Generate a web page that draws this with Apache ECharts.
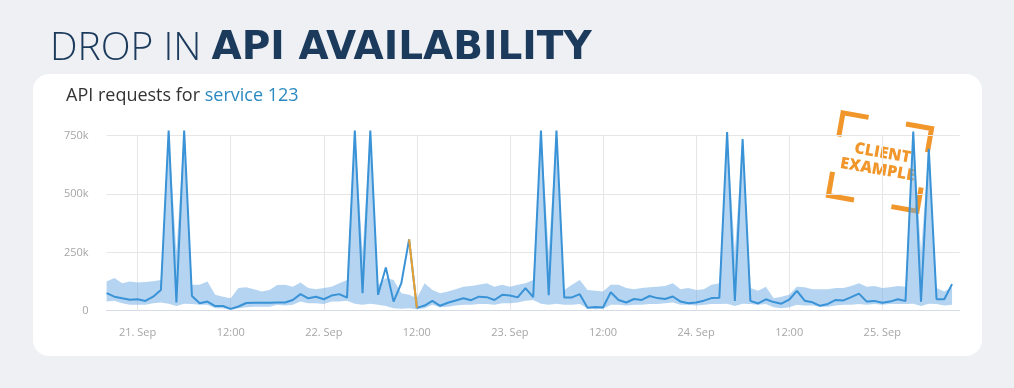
<!DOCTYPE html>
<html><head><meta charset="utf-8">
<script src="https://cdn.jsdelivr.net/npm/echarts@6/dist/echarts.min.js"></script>
<style>
html,body{margin:0;padding:0;background:#eef0f4;width:1014px;height:388px;overflow:hidden}
#card{position:absolute;left:33px;top:74px;width:949px;height:282px;background:#fff;border-radius:16px}
#chart{position:absolute;left:0;top:0;width:1014px;height:388px}
</style></head><body>
<div id="card"></div><div id="chart"></div>
<script>
// hourly samples from 20. Sep 20:00 to 25. Sep 09:00 (values in thousands of requests)
const startDay = 20, startHour = 20, monthName = 'Sep', pointCount = 110;
const requestsK = [75,60,53,47,49,42,60,89,772,35,772,63,32,39,20,20,8,18,33,34,
  34,34,35,35,46,71,53,60,49,65,71,56,772,75,772,68,185,39,118,306,
  12,22,42,21,34,44,53,45,60,58,46,68,65,57,97,58,772,66,772,57,
  57,71,13,16,14,79,46,35,50,46,63,54,50,61,39,32,35,43,54,55,
  766,42,736,42,31,49,37,30,47,85,43,36,21,29,46,44,58,73,39,42,
  34,39,49,42,768,39,694,49,49,114];
const bandHighK = [125,140,118,125,121,123,126,132,772,250,772,111,111,125,68,60,53,97,101,92,
  82,89,110,111,103,121,97,92,97,103,118,132,772,250,772,110,140,132,75,68,
  53,118,89,75,82,92,103,106,111,118,103,111,103,111,118,132,772,250,772,89,
  111,132,89,86,82,111,111,97,92,97,101,103,106,118,92,97,89,92,111,118,
  766,250,736,97,86,103,53,60,68,103,101,92,92,92,97,97,106,118,103,106,
  97,101,106,103,768,250,694,97,82,101];
const bandLowK = [39,43,32,25,25,25,32,35,30,20,30,29,25,25,10,10,3,10,15,17,
  17,17,25,22,25,39,32,32,29,39,39,43,30,25,30,25,20,10,8,10,
  6,10,25,15,17,22,25,25,29,29,25,32,32,35,43,46,30,25,30,25,
  25,29,10,6,8,25,25,22,25,25,29,29,32,35,25,25,22,25,29,29,
  30,20,30,29,25,29,15,10,15,25,22,22,17,17,22,25,25,29,25,29,
  25,29,29,29,30,20,30,29,22,25];
const anomalyIdx = [39, 40]; // drop highlighted in orange
const yTicksK = [0, 250, 500, 750];

const categories = [];
for (let i = 0; i <= pointCount; i++) {
  const h = startHour + i;
  const d = startDay + Math.floor(h / 24);
  const hh = h % 24;
  categories.push(d + '. ' + monthName + ' ' + String(hh).padStart(2, '0') + ':00');
}
const isTick = (idx, val) => /\s(00|12):00$/.test(categories[idx]);
const bandDiff = bandHighK.map((v, i) => v - bandLowK[i]);
const anomaly = requestsK.map((v, i) => anomalyIdx.includes(i) ? v : null);

const chart = echarts.init(document.getElementById('chart'), null, {renderer: 'canvas'});
const ORANGE = '#f0962a';
const corner = (pts) => ({type: 'polyline', shape: {points: pts},
  style: {stroke: ORANGE, lineWidth: 5, fill: null, lineJoin: 'miter'}});
chart.setOption({
  animation: false,
  backgroundColor: 'transparent',
  title: [{
    left: 50, top: 29, padding: 0,
    text: '{a|DROP IN }{b|API AVAILABILITY}',
    textStyle: {rich: {
      a: {fontFamily: 'Open Sans', fontWeight: 300, fontSize: 39, color: '#1b3a5c'},
      b: {fontFamily: 'DejaVu Sans', fontWeight: 'bold', fontSize: 39, color: '#1b3a5c'}
    }}
  }, {
    left: 66, top: 87, padding: 0,
    text: '{a|API requests for }{b|service 123}',
    textStyle: {fontWeight: 'normal', rich: {
      a: {fontFamily: 'Open Sans', fontWeight: 'normal', fontSize: 18, color: '#333333'},
      b: {fontFamily: 'Open Sans', fontWeight: 'normal', fontSize: 18, color: '#2a8ac0'}
    }}
  }],
  grid: {left: 106.6, right: 54.2, top: 135.7, bottom: 77.3, containLabel: false},
  xAxis: {
    type: 'category', data: categories, boundaryGap: false, offset: 8.3,
    axisLine: {show: true, lineStyle: {color: '#d6dbe4', width: 1}},
    axisTick: {show: true, inside: true, length: 8.3, interval: isTick, lineStyle: {color: '#e6e6e6'}},
    splitLine: {show: true, interval: isTick, lineStyle: {color: '#e6e6e6', width: 1}},
    axisLabel: {interval: isTick, color: '#a6a6a6', fontSize: 11, fontFamily: 'Open Sans', margin: 8,
      formatter: (v) => { const m = v.match(/^(\d+)\. (\w+) (\d\d):00$/); return m[3] === '00' ? m[1] + '. ' + m[2] : '12:00'; }}
  },
  yAxis: {
    type: 'value', min: yTicksK[0], max: yTicksK[yTicksK.length - 1], interval: yTicksK[1] - yTicksK[0],
    axisLine: {show: false}, axisTick: {show: false},
    splitLine: {lineStyle: {color: '#e6e6e6', width: 1}},
    axisLabel: {color: '#a6a6a6', fontSize: 11, fontFamily: 'Open Sans', margin: 18,
      formatter: (v) => v === 0 ? '0' : v + 'k'}
  },
  series: [
    {type: 'line', name: 'low', data: bandLowK, stack: 'band', symbol: 'none', silent: true, clip: false,
      lineStyle: {opacity: 0}, z: 1},
    {type: 'line', name: 'range', data: bandDiff, stack: 'band', symbol: 'none', silent: true, clip: false,
      lineStyle: {opacity: 0}, areaStyle: {color: 'rgba(105,170,228,0.5)', opacity: 1}, z: 1},
    {type: 'line', name: 'requests', data: requestsK, symbol: 'none', clip: false,
      lineStyle: {color: '#3a93d6', width: 2}, itemStyle: {color: '#3a93d6'}, z: 3},
    {type: 'line', name: 'drop', data: anomaly, symbol: 'none', clip: false, connectNulls: false,
      lineStyle: {color: '#e8a031', width: 2}, itemStyle: {color: '#e8a031'}, z: 4}
  ],
  graphic: [{
    type: 'group', x: 880, y: 162, rotation: -10 * Math.PI / 180, z: 10,
    children: [
      corner([[-19, -42], [-45, -42], [-45, -18]]),
      corner([[19, -42], [45, -42], [45, -18]]),
      corner([[-45, 18], [-45, 42], [-19, 42]]),
      corner([[45, 18], [45, 42], [19, 42]]),
      {type: 'text', x: 1, y: -9, style: {text: 'CLIENT', fill: ORANGE, fontFamily: 'Open Sans', fontWeight: 800, fontSize: 16, align: 'center', verticalAlign: 'middle'}},
      {type: 'text', x: -1, y: 8, style: {text: 'EXAMPLE', fill: ORANGE, fontFamily: 'Open Sans', fontWeight: 800, fontSize: 16, align: 'center', verticalAlign: 'middle'}}
    ]
  }]
});
</script>
</body></html>
